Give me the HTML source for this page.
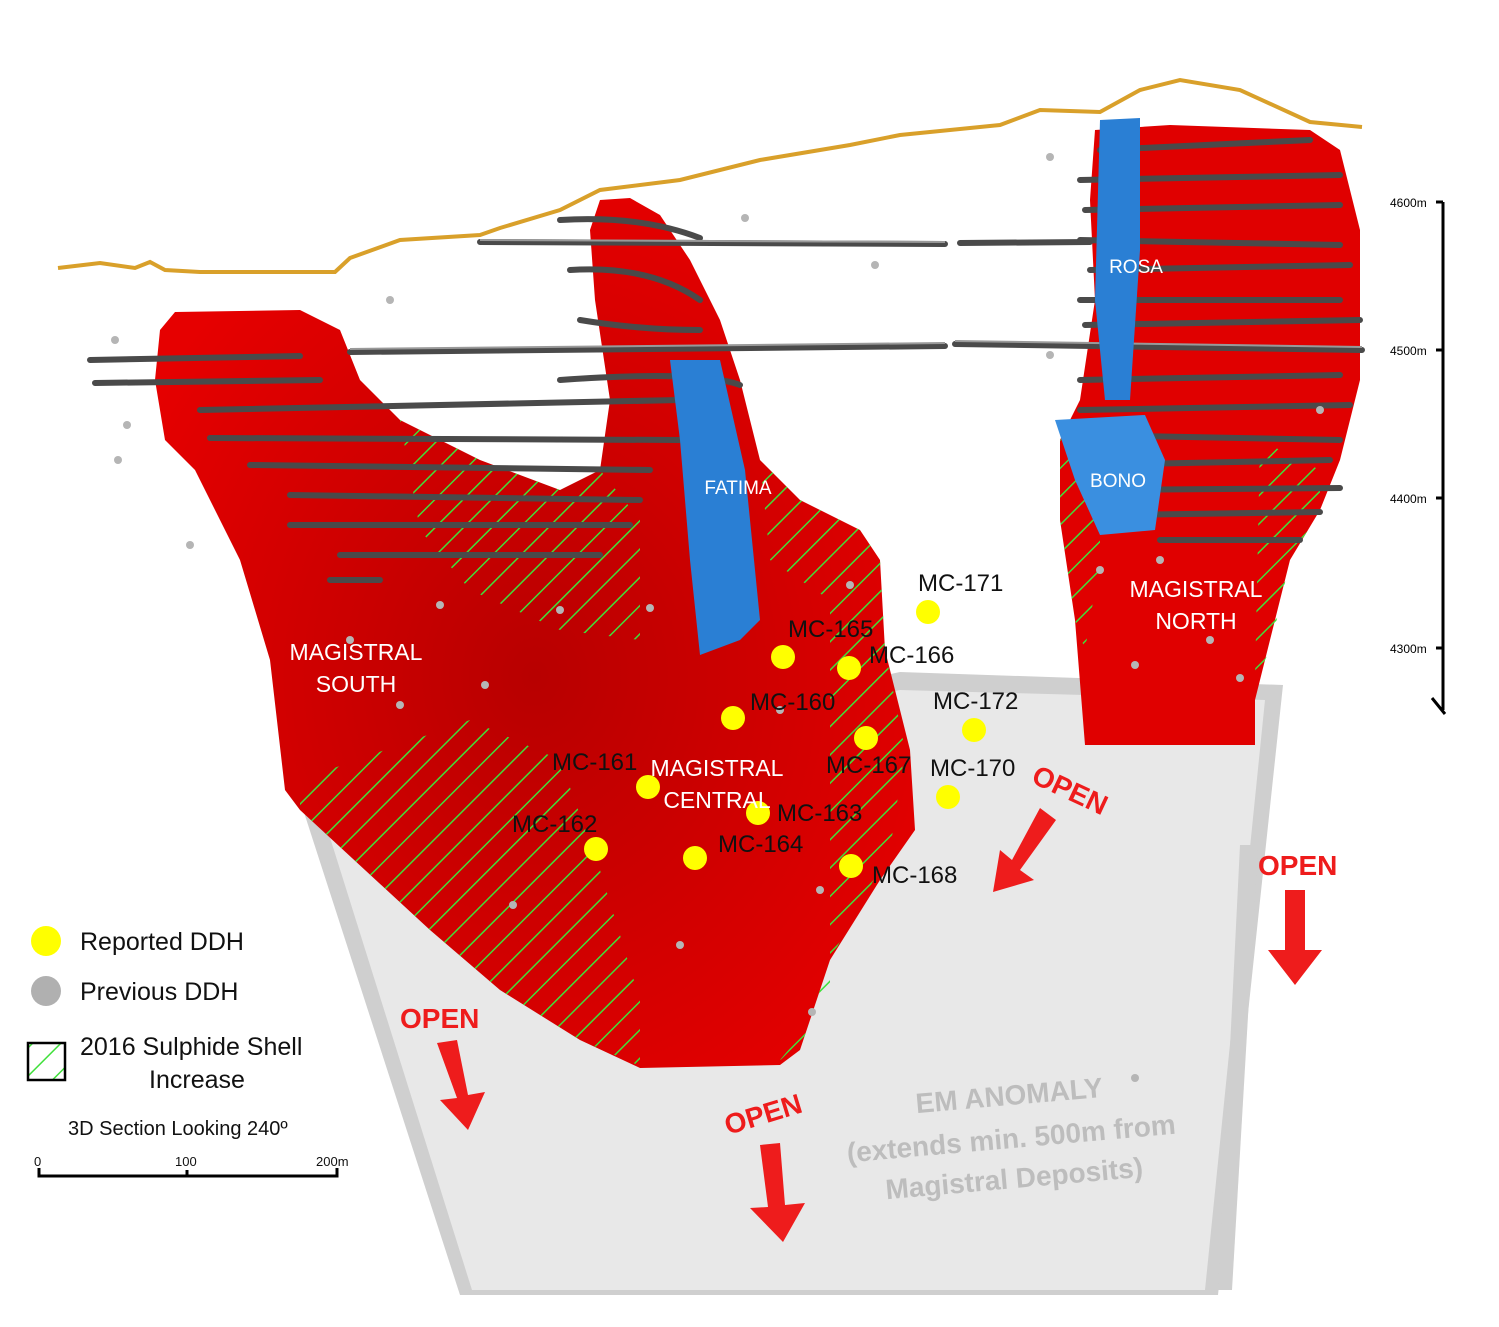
<!DOCTYPE html>
<html><head><meta charset="utf-8"><style>
html,body{margin:0;padding:0;background:#fff;}
svg{display:block;}
text{font-family:"Liberation Sans",sans-serif;}
</style></head><body>
<svg width="1499" height="1327" viewBox="0 0 1499 1327" xmlns="http://www.w3.org/2000/svg">
<defs>
<pattern id="h" patternUnits="userSpaceOnUse" width="20" height="20" patternTransform="rotate(45)">
<line x1="0" y1="0" x2="0" y2="20" stroke="#3fe03a" stroke-width="3"/>
</pattern>
<radialGradient id="rg" cx="0.5" cy="0.55" r="0.6"><stop offset="0" stop-color="#b80000"/><stop offset="1" stop-color="#e60000"/></radialGradient>
</defs>
<polygon points="300,800 900,672 1283,685 1218,1295 460,1295" fill="#cfcfcf"/>
<polygon points="322,812 900,690 1265,700 1205,1290 472,1290" fill="#e8e8e8"/>
<polygon points="1240,845 1258,845 1232,1290 1218,1290" fill="#cfcfcf"/>
<polyline points="58,268 100,263 135,268 150,262 165,270 200,272 335,272 350,258 400,240 480,235 500,228 560,210 600,190 680,180 760,160 850,145 900,135 1000,125 1040,110 1100,112 1140,90 1180,80 1240,90 1310,122 1362,127" fill="none" stroke="#d9a02a" stroke-width="4"/>
<polygon points="175,312 300,310 340,330 360,380 400,420 480,460 560,490 600,470 610,400 595,300 590,230 600,200 630,198 660,215 690,260 720,320 740,380 760,460 800,500 860,530 880,560 885,650 910,750 915,830 880,880 830,960 800,1050 780,1065 640,1068 580,1040 500,990 430,930 300,810 285,790 270,660 240,560 195,470 165,440 155,380 160,330" fill="url(#rg)"/>
<polygon points="1095,130 1170,125 1310,130 1340,150 1360,230 1360,380 1340,460 1320,510 1290,560 1255,700 1255,745 1085,745 1075,620 1060,520 1060,440 1080,400 1095,300 1090,200" fill="#e00000"/>
<g fill="url(#h)">
<polygon points="400,420 480,460 560,490 600,470 640,520 640,640 560,630 470,590 420,530"/>
<polygon points="300,780 470,720 560,760 600,870 640,1000 640,1066 580,1040 500,990 430,930 300,810"/>
<polygon points="760,460 800,500 860,530 880,560 885,650 905,750 890,850 830,960 800,1050 780,1060 830,1000 830,600 770,560"/>
<polygon points="1060,440 1100,420 1100,560 1085,650 1075,620 1060,520"/>
<polygon points="1260,440 1320,470 1320,510 1290,560 1270,650 1255,680"/>
</g>
<g fill="none" stroke="#4a4a4a" stroke-width="6" stroke-linecap="round">
<line x1="480" y1="242" x2="945" y2="244"/><line x1="960" y1="243" x2="1090" y2="242"/>
<line x1="350" y1="352" x2="945" y2="346"/><line x1="955" y1="344" x2="1362" y2="350"/>
<path d="M90,360 L300,356 M95,383 L320,380 M200,410 L680,400 M210,438 L680,440 M250,465 L650,470 M290,495 L640,500 M290,525 L630,525 M340,555 L600,555 M330,580 L380,580"/>
<path d="M560,220 Q640,215 700,238 M570,270 Q650,265 700,300 M580,320 Q640,330 700,330 M560,380 Q700,370 740,385"/>
<path d="M1100,150 L1310,140 M1080,180 L1340,175 M1085,210 L1340,205 M1080,240 L1340,245 M1090,270 L1350,265 M1080,300 L1340,300 M1085,325 L1360,320 M1080,380 L1340,375 M1080,410 L1350,405 M1085,435 L1340,440 M1090,465 L1330,460 M1100,490 L1340,488 M1120,515 L1320,512 M1160,540 L1300,540"/>
</g>
<g fill="none" stroke="#999" stroke-width="2">
<line x1="480" y1="240" x2="945" y2="242"/><line x1="350" y1="349" x2="945" y2="343"/><line x1="955" y1="341" x2="1362" y2="347"/>
</g>
<polygon points="1100,120 1140,118 1140,250 1130,400 1105,400 1095,300" fill="#2a7fd4"/>
<polygon points="1055,420 1145,415 1165,460 1155,530 1100,535 1075,480" fill="#3a8fe0"/>
<polygon points="670,360 720,360 745,470 760,620 740,640 700,655 690,560 680,440" fill="#2a7fd4"/>
<g fill="#b5b5b5">
<circle cx="115" cy="340" r="4"/><circle cx="127" cy="425" r="4"/><circle cx="118" cy="460" r="4"/><circle cx="190" cy="545" r="4"/><circle cx="390" cy="300" r="4"/><circle cx="400" cy="705" r="4"/><circle cx="485" cy="685" r="4"/><circle cx="650" cy="608" r="4"/><circle cx="680" cy="945" r="4"/><circle cx="812" cy="1012" r="4"/><circle cx="850" cy="585" r="4"/><circle cx="1135" cy="1078" r="4"/><circle cx="1050" cy="157" r="4"/><circle cx="745" cy="218" r="4"/><circle cx="875" cy="265" r="4"/><circle cx="1050" cy="355" r="4"/><circle cx="1135" cy="665" r="4"/><circle cx="1240" cy="678" r="4"/><circle cx="513" cy="905" r="4"/><circle cx="440" cy="605" r="4"/><circle cx="560" cy="610" r="4"/><circle cx="780" cy="710" r="4"/><circle cx="820" cy="890" r="4"/><circle cx="350" cy="640" r="4"/><circle cx="1210" cy="640" r="4"/><circle cx="1100" cy="570" r="4"/><circle cx="1160" cy="560" r="4"/><circle cx="1320" cy="410" r="4"/>
</g>
<g fill="#ffff00">
<circle cx="928" cy="612" r="12"/><circle cx="783" cy="657" r="12"/><circle cx="849" cy="668" r="12"/><circle cx="733" cy="718" r="12"/><circle cx="974" cy="730" r="12"/><circle cx="866" cy="738" r="12"/><circle cx="648" cy="787" r="12"/><circle cx="948" cy="797" r="12"/><circle cx="758" cy="813" r="12"/><circle cx="596" cy="849" r="12"/><circle cx="695" cy="858" r="12"/><circle cx="851" cy="866" r="12"/>
</g>
<g font-size="24" fill="#111">
<text x="918" y="591">MC-171</text><text x="788" y="637">MC-165</text><text x="869" y="663">MC-166</text><text x="750" y="710">MC-160</text><text x="933" y="709">MC-172</text><text x="826" y="773">MC-167</text><text x="552" y="770">MC-161</text><text x="930" y="776">MC-170</text><text x="777" y="821">MC-163</text><text x="512" y="832">MC-162</text><text x="718" y="852">MC-164</text><text x="872" y="883">MC-168</text>
</g>
<g font-size="23" fill="#fff" text-anchor="middle">
<text x="356" y="660">MAGISTRAL</text><text x="356" y="692">SOUTH</text>
<text x="717" y="776">MAGISTRAL</text><text x="717" y="808">CENTRAL</text>
<text x="1196" y="597">MAGISTRAL</text><text x="1196" y="629">NORTH</text>
<text x="738" y="494" font-size="19">FATIMA</text><text x="1136" y="273" font-size="19">ROSA</text><text x="1118" y="487" font-size="19">BONO</text>
</g>
<g fill="#ee1c1c" font-weight="bold" font-size="28">
<text x="0" y="0" transform="translate(1030,782) rotate(25)">OPEN</text>
<text x="1258" y="875">OPEN</text>
<text x="400" y="1028">OPEN</text>
<text x="0" y="0" transform="translate(728,1135) rotate(-17)">OPEN</text>
</g>
<g fill="#ee1c1c">
<polygon points="1040,808 1056,820 1020,870 1034,880 993,892 1000,850 1012,860"/>
<polygon points="1285,890 1305,890 1305,950 1322,950 1295,985 1268,950 1285,950"/>
<polygon points="437,1043 457,1040 468,1095 485,1092 468,1130 440,1100 457,1098"/>
<polygon points="760,1145 780,1143 785,1205 805,1203 783,1242 750,1208 768,1207"/>
</g>
<g fill="#bdbdbd" font-weight="bold" font-size="28" text-anchor="middle">
<text x="0" y="0" transform="translate(1010,1105) rotate(-5)">EM ANOMALY</text>
<text x="0" y="0" transform="translate(1012,1148) rotate(-5)">(extends min. 500m from</text>
<text x="0" y="0" transform="translate(1015,1188) rotate(-5)">Magistral Deposits)</text>
</g>
<g stroke="#000" stroke-width="3" fill="none">
<line x1="1443" y1="202" x2="1443" y2="710"/>
<path d="M1436,202 H1443 M1436,350 H1443 M1436,498 H1443 M1436,648 H1443 M1432,698 L1445,714"/>
</g>
<g font-size="12" fill="#000"><text x="1390" y="207">4600m</text><text x="1390" y="355">4500m</text><text x="1390" y="503">4400m</text><text x="1390" y="653">4300m</text></g>
<circle cx="46" cy="941" r="15" fill="#ffff00"/>
<circle cx="46" cy="991" r="15" fill="#b0b0b0"/>
<rect x="28" y="1043" width="37" height="37" fill="url(#h)" stroke="#000" stroke-width="2.5"/>
<g font-size="25" fill="#111"><text x="80" y="950">Reported DDH</text><text x="80" y="1000">Previous DDH</text><text x="80" y="1055">2016 Sulphide Shell</text><text x="197" y="1088" text-anchor="middle">Increase</text></g>
<text x="68" y="1135" font-size="20" fill="#111">3D Section Looking 240º</text>
<path d="M39,1168 V1176 H337 V1168 M187,1170 V1176" stroke="#000" stroke-width="3" fill="none"/>
<g font-size="13" fill="#111"><text x="34" y="1166">0</text><text x="175" y="1166">100</text><text x="316" y="1166">200m</text></g>
</svg>
</body></html>
